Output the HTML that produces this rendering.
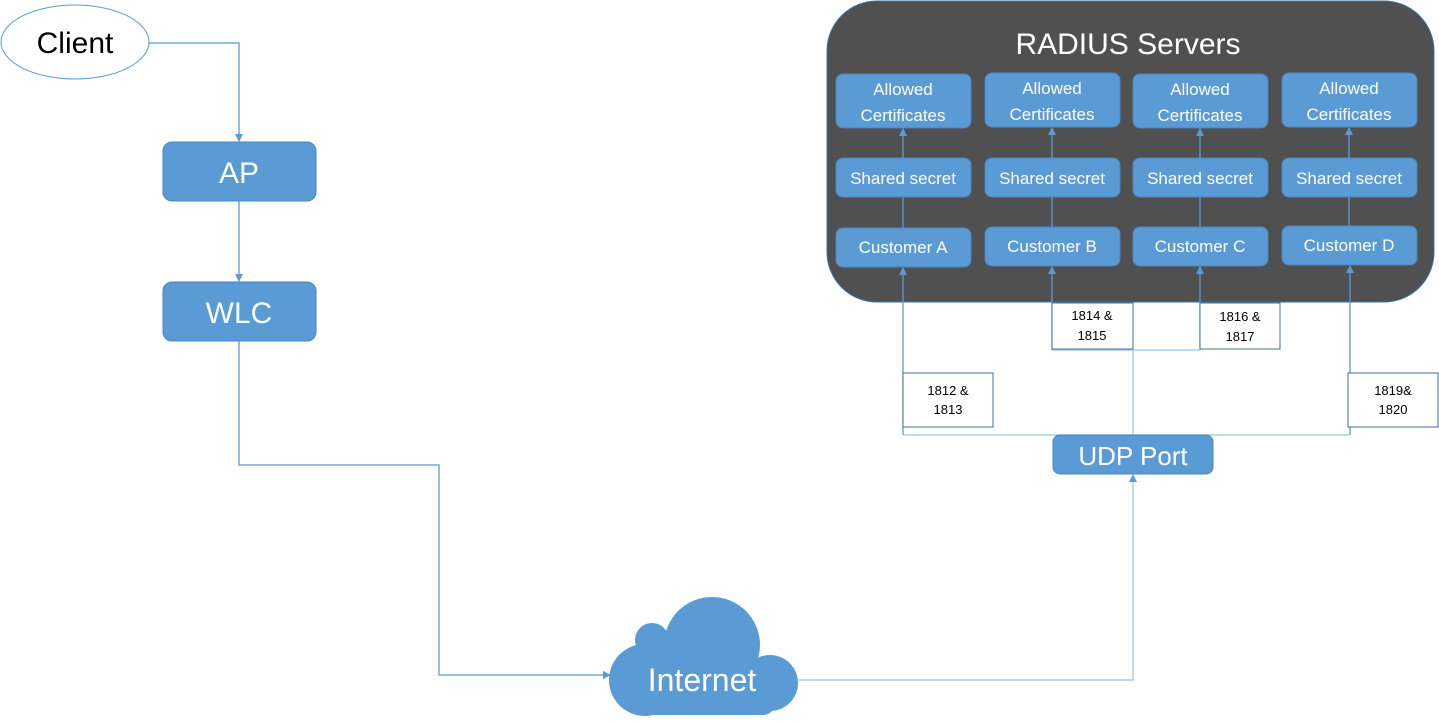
<!DOCTYPE html>
<html><head><meta charset="utf-8"><style>
html,body{margin:0;padding:0;background:#fff;}
svg{display:block;font-family:"Liberation Sans",sans-serif;}
.b{fill:#5b9bd5;stroke:#4a86c0;stroke-width:1;}
.t{fill:#fff;text-anchor:middle;}
.l{fill:none;stroke:#5b9bd5;stroke-width:1.3;}
.lb{fill:#fff;stroke:#41719c;stroke-width:1;}
.k{fill:#000;text-anchor:middle;font-size:13px;}
</style></head><body>
<svg width="1439" height="723" viewBox="0 0 1439 723">
<defs><marker id="a" markerWidth="8" markerHeight="8" refX="7" refY="4" orient="auto" markerUnits="userSpaceOnUse"><path d="M0,0 L8,4 L0,8 z" fill="#5b9bd5"/></marker></defs>
<ellipse cx="75" cy="42" rx="74" ry="37" fill="#fff" stroke="#5b9bd5" stroke-width="1"/>
<text x="75" y="53" font-size="30" text-anchor="middle" fill="#000">Client</text>
<path class="l" d="M149,43 H239 V141" marker-end="url(#a)"/>
<rect class="b" x="163" y="142" width="153" height="59" rx="9"/>
<text class="t" x="239" y="183" font-size="30">AP</text>
<path class="l" d="M239,201 V281" marker-end="url(#a)"/>
<rect class="b" x="163" y="282" width="153" height="59" rx="9"/>
<text class="t" x="239" y="323" font-size="30">WLC</text>
<path class="l" d="M239,341 V465 H439 V675 H610" marker-end="url(#a)"/>
<g fill="#5b9bd5">
<circle cx="712" cy="645" r="48"/>
<circle cx="652" cy="640" r="17"/>
<circle cx="645" cy="680" r="36"/>
<circle cx="770" cy="683" r="28"/>
<rect x="630" y="660" width="145" height="55" rx="12"/>
</g>
<text class="t" x="702" y="691" font-size="32">Internet</text>
<path class="l" d="M797,680 H1133 V475" marker-end="url(#a)" style="stroke:#9dc3e6"/>
<rect x="827" y="1" width="607" height="301" rx="50" fill="#505050" stroke="#41719c"/>
<text class="t" x="1128" y="54" font-size="30">RADIUS Servers</text>
<g font-size="17">
<rect class="b" x="836" y="74" width="135" height="54" rx="7"/><text class="t" x="903" y="95">Allowed</text><text class="t" x="903" y="121">Certificates</text>
<rect class="b" x="985" y="73" width="135" height="54" rx="7"/><text class="t" x="1052" y="94">Allowed</text><text class="t" x="1052" y="120">Certificates</text>
<rect class="b" x="1133" y="74" width="135" height="54" rx="7"/><text class="t" x="1200" y="95">Allowed</text><text class="t" x="1200" y="121">Certificates</text>
<rect class="b" x="1282" y="73" width="135" height="54" rx="7"/><text class="t" x="1349" y="94">Allowed</text><text class="t" x="1349" y="120">Certificates</text>
<rect class="b" x="836" y="158" width="135" height="39" rx="7"/><text class="t" x="903" y="184">Shared secret</text>
<rect class="b" x="985" y="158" width="135" height="39" rx="7"/><text class="t" x="1052" y="184">Shared secret</text>
<rect class="b" x="1133" y="158" width="135" height="39" rx="7"/><text class="t" x="1200" y="184">Shared secret</text>
<rect class="b" x="1282" y="158" width="135" height="39" rx="7"/><text class="t" x="1349" y="184">Shared secret</text>
<rect class="b" x="836" y="228" width="135" height="39" rx="7"/><text class="t" x="903" y="253">Customer  A</text>
<rect class="b" x="985" y="227" width="135" height="39" rx="7"/><text class="t" x="1052" y="252">Customer  B</text>
<rect class="b" x="1133" y="227" width="135" height="39" rx="7"/><text class="t" x="1200" y="252">Customer  C</text>
<rect class="b" x="1282" y="226" width="135" height="39" rx="7"/><text class="t" x="1349" y="251">Customer  D</text>
</g>
<g class="l">
<path d="M903,158 V129" marker-end="url(#a)"/>
<path d="M1052,158 V128" marker-end="url(#a)"/>
<path d="M1200,158 V129" marker-end="url(#a)"/>
<path d="M1349,158 V128" marker-end="url(#a)"/>
<path d="M903,197 V228 M1052,197 V227 M1200,197 V227 M1349,197 V226"/>
</g>
<path class="l" d="M903,435 V268" marker-end="url(#a)"/>
<path class="l" d="M1350,435 V266" marker-end="url(#a)"/>
<path class="l" d="M1052,350 V267" marker-end="url(#a)"/>
<path class="l" d="M1200,350 V267" marker-end="url(#a)"/>
<path class="l" d="M903,435 H1350 M1052,350 H1200 M1133,350 V435" style="stroke:#9dc3e6"/>
<rect class="lb" x="903" y="373" width="90" height="54"/><text class="k" x="948" y="395">1812 &amp;</text><text class="k" x="948" y="414">1813</text>
<rect class="lb" x="1052" y="303" width="81" height="46"/><text class="k" x="1092" y="320">1814 &amp;</text><text class="k" x="1092" y="340">1815</text>
<rect class="lb" x="1200" y="303" width="80" height="46"/><text class="k" x="1240" y="321">1816 &amp;</text><text class="k" x="1240" y="341">1817</text>
<rect class="lb" x="1348" y="373" width="90" height="54"/><text class="k" x="1393" y="395">1819&amp;</text><text class="k" x="1393" y="414">1820</text>
<rect class="b" x="1053" y="435" width="160" height="39" rx="7"/>
<text class="t" x="1133" y="465" font-size="26">UDP Port</text>
</svg>
</body></html>
